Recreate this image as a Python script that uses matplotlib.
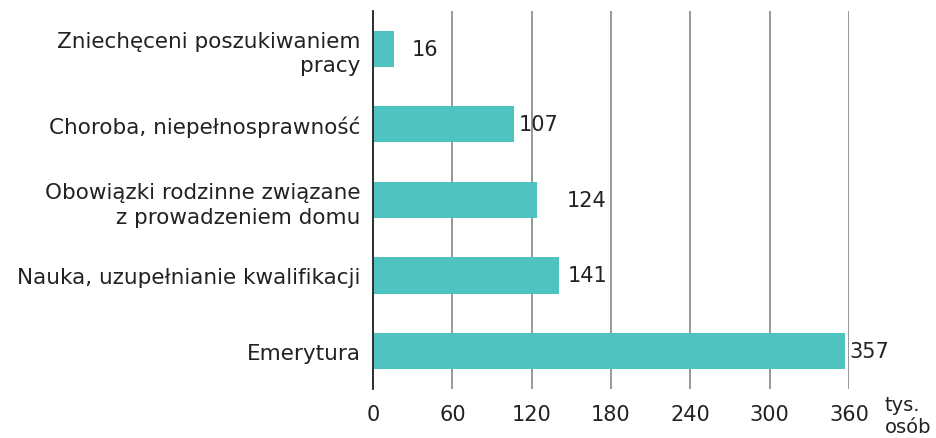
import matplotlib.pyplot as plt

categories = [
    "Zniechęceni poszukiwaniem\npracy",
    "Choroba, niepełnosprawność",
    "Obowiązki rodzinne związane\nz prowadzeniem domu",
    "Nauka, uzupełnianie kwalifikacji",
    "Emerytura",
]
values = [16, 107, 124, 141, 357]
label_pad = [18, 4, 30, 8, 4]  # px gap between bar end and value label
xticks = [0, 60, 120, 180, 240, 300, 360]

BAR = "#4fc3c0"

fig = plt.figure(figsize=(9.36, 4.39), dpi=100)
ax = fig.add_axes([0.3985, 0.112, 0.5085, 0.861])

y = list(range(len(categories)))
ax.barh(y, values, height=0.48, color=BAR, zorder=3)

for yi, v, p in zip(y, values, label_pad):
    ax.annotate(str(v), (v, yi), xytext=(p * 0.72, 0), textcoords="offset points",
                va="center", ha="left", fontsize=15, color="#222222", zorder=4)

ax.set_xlim(0, 360)
ax.set_ylim(len(categories) - 0.5, -0.5)
ax.set_xticks(xticks)
ax.set_xticklabels([str(t) for t in xticks], fontsize=15, color="#222222")
ax.set_yticks(y)
ax.set_yticklabels(categories, fontsize=15.5, color="#222222", linespacing=1.3)
ax.tick_params(axis="y", length=0, pad=9)
ax.tick_params(axis="x", length=0, pad=11)

ax.grid(axis="x", color="#888888", linewidth=1.2, zorder=1)
for s in ["top", "right", "bottom"]:
    ax.spines[s].set_visible(False)
ax.spines["left"].set_color("#222222")
ax.spines["left"].set_linewidth(1.3)
ax.spines["left"].set_zorder(5)

fig.text(0.945, 0.052, "tys.\nosób", fontsize=14, color="#222222",
         ha="left", va="center", linespacing=1.2)

fig.savefig("out.png", dpi=100)
